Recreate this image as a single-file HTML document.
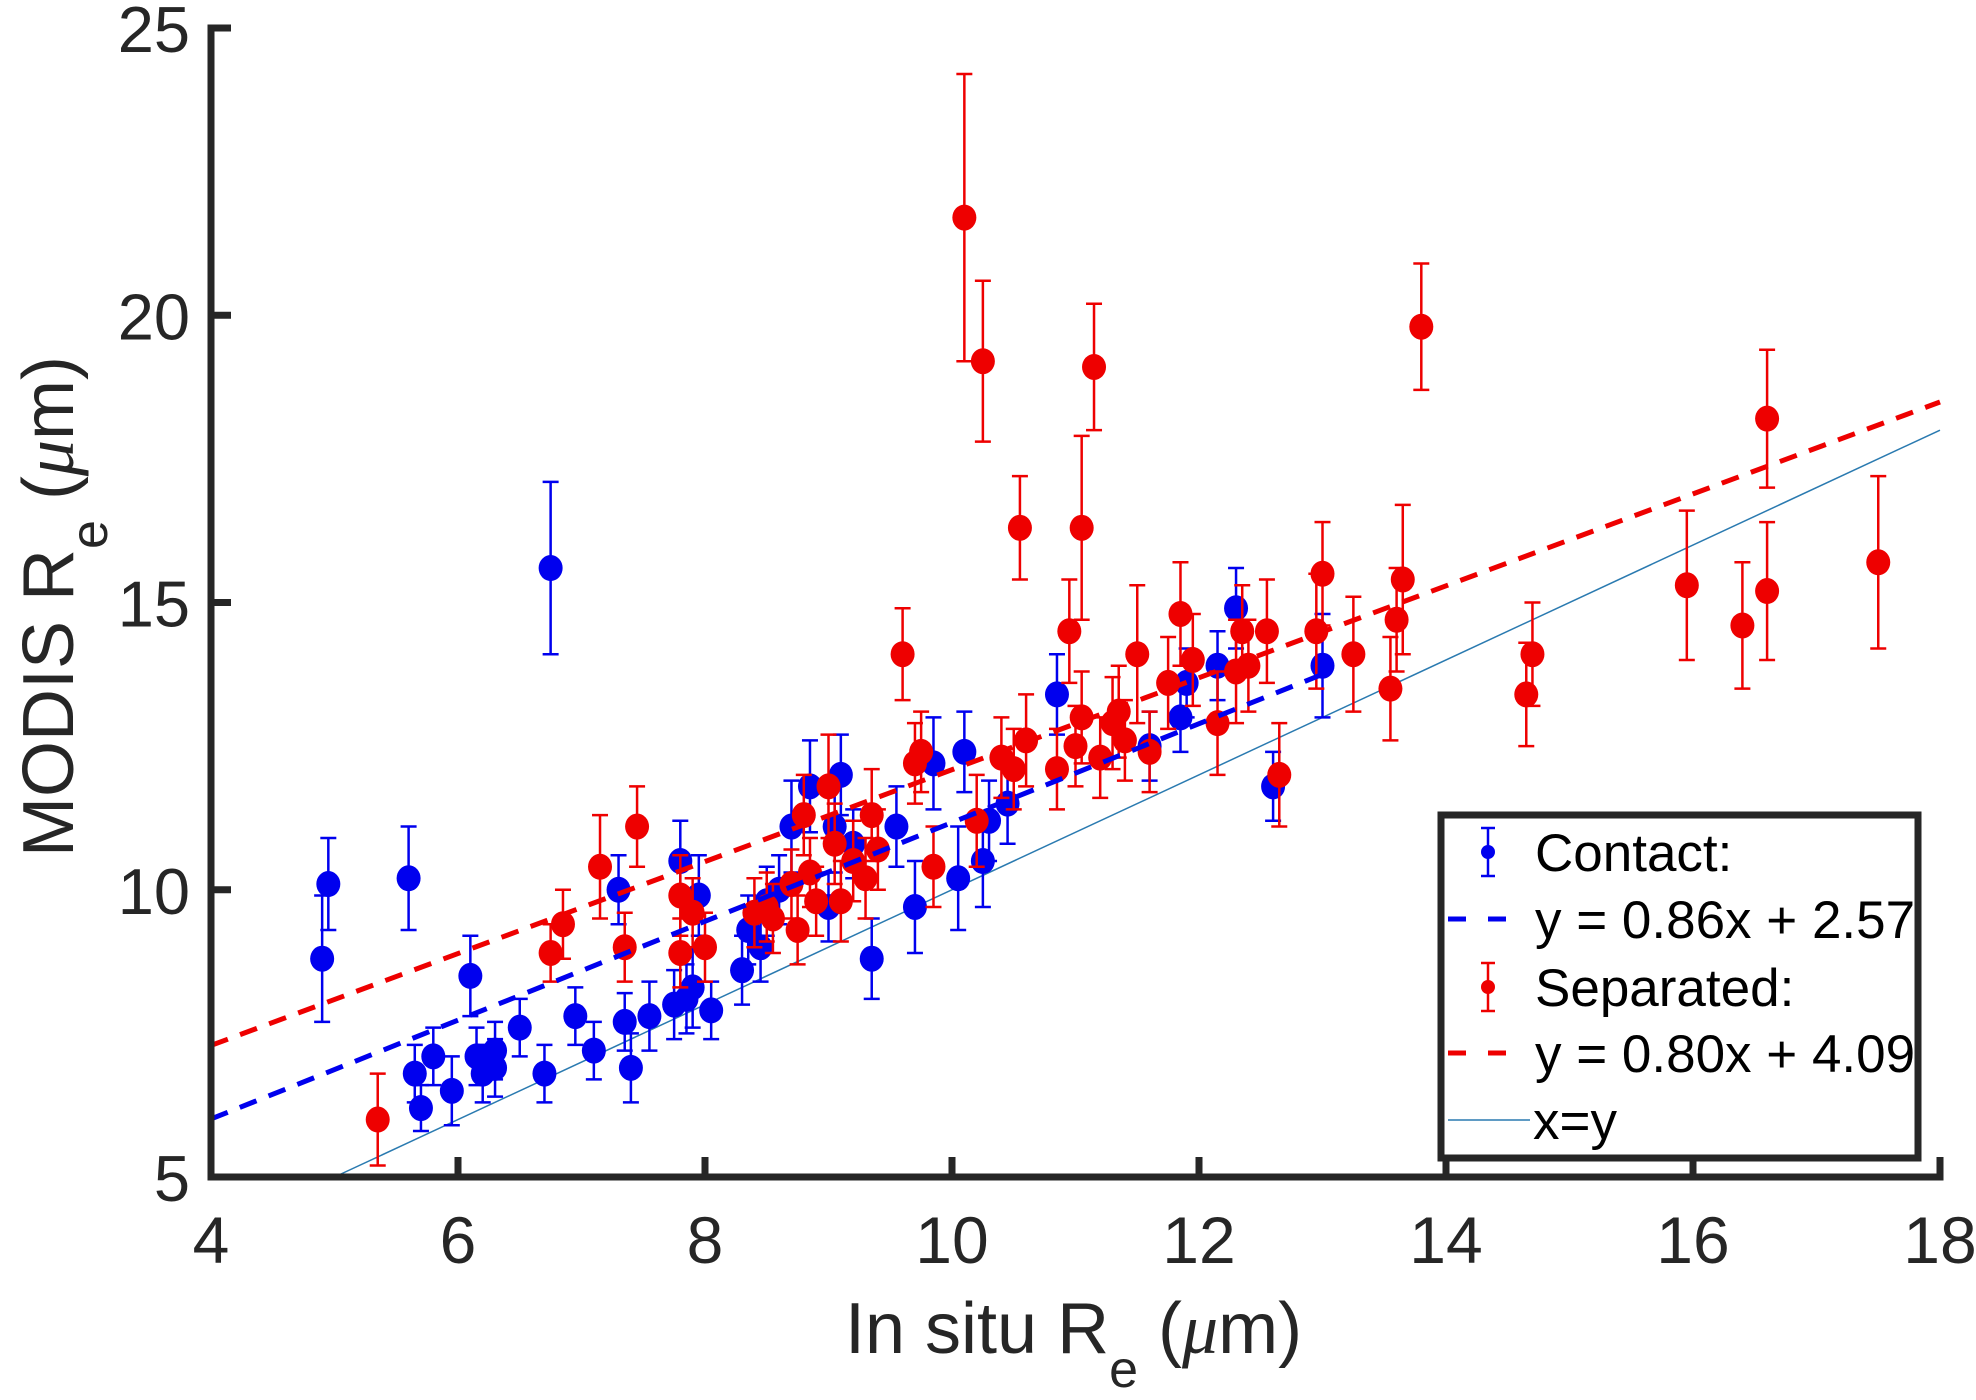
<!DOCTYPE html>
<html><head><meta charset="utf-8"><style>
html,body{margin:0;padding:0;background:#fff;}
svg{display:block;font-family:"Liberation Sans",sans-serif;}
</style></head><body>
<svg id="chart" width="1976" height="1400" viewBox="0 0 1976 1400" xmlns="http://www.w3.org/2000/svg">
<g id="plot"></g>
<g id="axes"></g>
<text x="845" y="1353" font-size="72" fill="#262626">In situ R<tspan font-size="52" dy="34">e</tspan><tspan dy="-34"> (</tspan><tspan font-family="Liberation Serif" font-style="italic">μ</tspan>m)</text>
<text transform="translate(73,857) rotate(-90)" font-size="72" fill="#262626">MODIS R<tspan font-size="52" dy="34">e</tspan><tspan dy="-34"> (</tspan><tspan font-family="Liberation Serif" font-style="italic">μ</tspan>m)</text>
<g>
<rect x="1441" y="815" width="477" height="343" fill="#fff" stroke="#262626" stroke-width="7"/>
<g>
<line x1="1488" y1="828" x2="1488" y2="876" stroke="#0000ee" stroke-width="2.5"/>
<line x1="1481" y1="828" x2="1495" y2="828" stroke="#0000ee" stroke-width="2.5"/>
<line x1="1481" y1="876" x2="1495" y2="876" stroke="#0000ee" stroke-width="2.5"/>
<circle cx="1488" cy="852" r="7" fill="#0000ee"/>
<text x="1535" y="871" font-size="53" fill="#000">Contact:</text></g>
<g>
<line x1="1448" y1="919" x2="1508" y2="919" stroke="#0000ee" stroke-width="5" stroke-dasharray="18,22"/>
<text x="1535" y="938" font-size="53" fill="#000">y = 0.86x + 2.57</text></g>
<g>
<line x1="1488" y1="963" x2="1488" y2="1011" stroke="#ee0000" stroke-width="2.5"/>
<line x1="1481" y1="963" x2="1495" y2="963" stroke="#ee0000" stroke-width="2.5"/>
<line x1="1481" y1="1011" x2="1495" y2="1011" stroke="#ee0000" stroke-width="2.5"/>
<circle cx="1488" cy="987" r="7" fill="#ee0000"/>
<text x="1535" y="1006" font-size="53" fill="#000">Separated:</text></g>
<g>
<line x1="1448" y1="1053" x2="1508" y2="1053" stroke="#ee0000" stroke-width="5" stroke-dasharray="18,22"/>
<text x="1535" y="1072" font-size="53" fill="#000">y = 0.80x + 4.09</text></g>
<g>
<line x1="1448" y1="1120" x2="1530" y2="1120" stroke="#2a7ab0" stroke-width="1.5"/>
<text x="1533" y="1139" font-size="53" fill="#000">x=y</text></g>
</g>
</svg>
<script>
const xTicks = [4,6,8,10,12,14,16,18];
const yTicks = [5,10,15,20,25];
const contactX = [4.9,4.95,5.6,5.65,5.7,5.8,5.95,6.1,6.15,6.2,6.3,6.3,6.5,6.7,6.75,6.95,7.1,7.3,7.35,7.4,7.55,7.75,7.8,7.85,7.9,7.95,8.05,8.3,8.35,8.45,8.5,8.6,8.7,8.85,9.0,9.05,9.1,9.2,9.35,9.55,9.7,9.85,10.05,10.1,10.25,10.3,10.45,10.85,11.6,11.85,11.9,12.15,12.3,12.6,13.0];
const contactY = [8.8,10.1,10.2,6.8,6.2,7.1,6.5,8.5,7.1,6.8,6.9,7.2,7.6,6.8,15.6,7.8,7.2,10.0,7.7,6.9,7.8,8.0,10.5,8.1,8.3,9.9,7.9,8.6,9.3,9.0,9.8,10.0,11.1,11.8,9.7,11.1,12.0,10.8,8.8,11.1,9.7,12.2,10.2,12.4,10.5,11.2,11.5,13.4,12.5,13.0,13.6,13.9,14.9,11.8,13.9];
const contactErr = [1.1,0.8,0.9,0.5,0.4,0.5,0.6,0.7,0.5,0.5,0.5,0.5,0.5,0.5,1.5,0.5,0.5,0.6,0.5,0.6,0.6,0.6,0.7,0.6,0.7,0.7,0.5,0.6,0.6,0.6,0.6,0.6,0.8,0.8,0.6,0.8,0.7,0.6,0.7,0.7,0.8,0.8,0.9,0.7,0.8,0.7,0.7,0.7,0.6,0.6,0.6,0.6,0.7,0.6,0.9];
const sepX = [5.35,6.75,6.85,7.15,7.35,7.45,7.8,7.8,7.9,8.0,8.4,8.5,8.55,8.7,8.75,8.8,8.85,8.9,9.0,9.05,9.1,9.2,9.3,9.35,9.4,9.6,9.7,9.75,9.85,10.1,10.2,10.25,10.4,10.5,10.55,10.6,10.85,10.95,11.0,11.05,11.05,11.15,11.2,11.3,11.35,11.4,11.5,11.6,11.75,11.85,11.95,12.15,12.3,12.35,12.4,12.55,12.65,12.95,13.0,13.25,13.55,13.6,13.65,13.8,14.65,14.7,15.95,16.4,16.6,16.6,17.5];
const sepY = [6.0,8.9,9.4,10.4,9.0,11.1,9.9,8.9,9.6,9.0,9.6,9.7,9.5,10.1,9.3,11.3,10.3,9.8,11.8,10.8,9.8,10.5,10.2,11.3,10.7,14.1,12.2,12.4,10.4,21.7,11.2,19.2,12.3,12.1,16.3,12.6,12.1,14.5,12.5,16.3,13.0,19.1,12.3,12.9,13.1,12.6,14.1,12.4,13.6,14.8,14.0,12.9,13.8,14.5,13.9,14.5,12.0,14.5,15.5,14.1,13.5,14.7,15.4,19.8,13.4,14.1,15.3,14.6,15.2,18.2,15.7];
const sepErr = [0.8,0.5,0.6,0.9,0.6,0.7,0.7,0.6,0.6,0.6,0.6,0.6,0.6,0.6,0.6,0.7,0.6,0.6,0.9,0.7,0.7,0.7,0.7,0.8,0.7,0.8,0.7,0.7,0.7,2.5,0.8,1.4,0.7,0.7,0.9,0.8,0.7,0.9,0.7,1.6,0.8,1.1,0.7,0.8,0.8,0.7,1.2,0.7,0.8,0.9,0.8,0.9,0.9,0.8,0.8,0.9,0.9,1.0,0.9,1.0,0.9,0.9,1.3,1.1,0.9,0.9,1.3,1.1,1.2,1.2,1.5];
const fitContact = [0.86, 2.57, 4, 13];
const fitSep = [0.80, 4.09, 4, 18];
const identity = [5, 18];

const X0=211, X1=1940, Y0=1177, Y1=28;
const xs = v => X0 + (v-4)/(18-4)*(X1-X0);
const ys = v => Y0 - (v-5)/(25-5)*(Y0-Y1);
const NS="http://www.w3.org/2000/svg";
const plot=document.getElementById('plot'), axes=document.getElementById('axes');
function mk(tag, attrs, parent){const e=document.createElementNS(NS,tag);for(const k in attrs)e.setAttribute(k,attrs[k]);parent.appendChild(e);return e;}

// identity line
const idl = mk('line',{x1:xs(identity[0]),y1:ys(identity[0]),x2:xs(identity[1]),y2:ys(identity[1]),stroke:'#2a7ab0','stroke-width':1.5},plot);



function series(X,Y,E,color,name){
  const g=mk('g',{},plot);
  
  
  for(let i=0;i<X.length;i++){
    const cx=xs(X[i]), t=ys(Y[i]+E[i]), b=ys(Y[i]-E[i]);
    const eg=mk('g',{},g);
    
    
    mk('line',{x1:cx,y1:t,x2:cx,y2:b,stroke:color,'stroke-width':2.5},eg);
    mk('line',{x1:cx-8,y1:t,x2:cx+8,y2:t,stroke:color,'stroke-width':2.5},eg);
    mk('line',{x1:cx-8,y1:b,x2:cx+8,y2:b,stroke:color,'stroke-width':2.5},eg);
    mk('ellipse',{cx:cx,cy:ys(Y[i]),rx:12,ry:13,fill:color},eg);
  }
}
series(contactX,contactY,contactErr,'#0000ee','contact');
series(sepX,sepY,sepErr,'#ee0000','separated');

function fit(f,color,name){
  const l=mk('line',{x1:xs(f[2]),y1:ys(f[0]*f[2]+f[1]),x2:xs(f[3]),y2:ys(f[0]*f[3]+f[1]),stroke:color,'stroke-width':5,'stroke-dasharray':'18,13'},plot);
  
  
}
fit(fitContact,'#0000ee','contact-fit-line');
fit(fitSep,'#ee0000','separated-fit-line');

// axes
const ax=mk('path',{d:`M${X0},${Y1} V${Y0} H${X1}`,fill:'none',stroke:'#262626','stroke-width':7,'stroke-linecap':'square'},axes);


xTicks.forEach(v=>{
  mk('line',{x1:xs(v),y1:Y0,x2:xs(v),y2:Y0-20,stroke:'#262626','stroke-width':7},axes);
  const t=mk('text',{x:xs(v),y:1263,'font-size':66,'text-anchor':'middle',fill:'#262626'},axes);
  t.textContent=v;
  
  
});
yTicks.forEach(v=>{
  mk('line',{x1:X0,y1:ys(v),x2:X0+20,y2:ys(v),stroke:'#262626','stroke-width':7},axes);
  const t=mk('text',{x:190,y:ys(v)+24,'font-size':65,'text-anchor':'end',fill:'#262626'},axes);
  t.textContent=v;
  
  
});
</script>
</body></html>
